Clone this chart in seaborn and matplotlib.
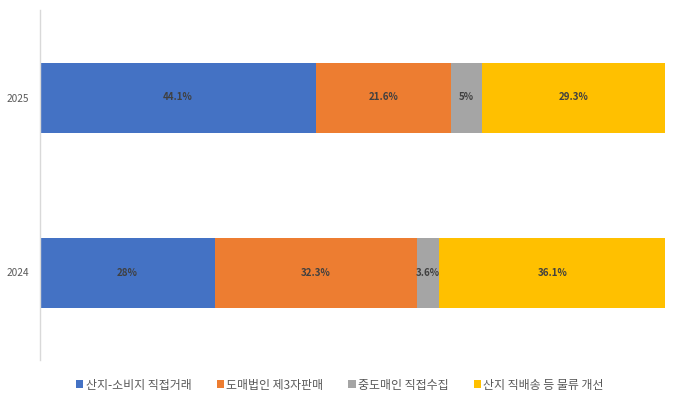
"""Stacked horizontal bar: distribution channel shares, 2024 vs 2025."""

import matplotlib

matplotlib.use("Agg")

import matplotlib.pyplot as plt
import numpy as np
import pandas as pd
import seaborn as sns
from matplotlib.patches import Patch

years = ["2025", "2024"]
channels = ["산지-소비지 직접거래", "도매법인 제3자판매", "중도매인 직접수집", "산지 직배송 등 물류 개선"]
share_2025 = [44.1, 21.6, 5, 29.3]
share_2024 = [28, 32.3, 3.6, 36.1]
colors = ["#4472C4", "#ED7D31", "#A5A5A5", "#FFC000"]

sns.set_style("white")
plt.rcParams["font.family"] = ["Noto Sans CJK KR", "DejaVu Sans"]

values = np.array([share_2025, share_2024])
cum = np.cumsum(values, axis=1)

fig = plt.figure(figsize=(6.8, 3.98), dpi=100)
ax = fig.add_axes([40 / 680, 1 - 360 / 398, 625 / 680, 350 / 398])

# draw cumulative totals from widest to narrowest so each segment shows
for i in range(len(channels) - 1, -1, -1):
    frame = pd.DataFrame({"year": years, "total": cum[:, i]})
    sns.barplot(data=frame, x="total", y="year", order=years, orient="y",
                color=colors[i], width=0.4, saturation=1, linewidth=0, ax=ax)

for r, yr in enumerate(years):
    for i in range(len(channels)):
        v = values[r, i]
        ax.text(cum[r, i] - v / 2, r, f"{v:g}%", ha="center", va="center",
                fontsize=7, fontweight="bold", color="#404040")

ax.set_xlim(0, 100)
ax.set_ylim(1.5, -0.5)
ax.set_xlabel("")
ax.set_ylabel("")
ax.set_xticks([])
ax.tick_params(axis="y", length=0, labelsize=7.3, labelcolor="#595959", pad=8)
for side in ["top", "right", "bottom"]:
    ax.spines[side].set_visible(False)
ax.spines["left"].set_color("#D9D9D9")
ax.spines["left"].set_linewidth(1)

handles = [Patch(facecolor=c, edgecolor="none") for c in colors]
fig.legend(handles, channels, loc="center", bbox_to_anchor=(0.5, 1 - 385 / 398),
           ncol=4, frameon=False, fontsize=8.6, handlelength=0.6, handleheight=0.6,
           handletextpad=0.2, columnspacing=2.1, labelcolor="#595959")

fig.savefig("out.png", dpi=100)
